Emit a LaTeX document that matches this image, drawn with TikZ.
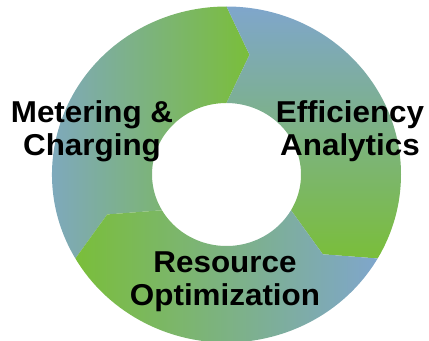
\documentclass[tikz,border=0pt]{standalone}
\usepackage{fontspec}
\setmainfont{Liberation Sans}
\definecolor{blu}{RGB}{127,166,204}
\definecolor{grn}{RGB}{122,190,58}
\newcommand{\widetext}[1]{\scalebox{1.04}[1]{#1}}
\tikzset{
  lbl/.style={anchor=base, inner sep=0pt, text=black,
    font=\fontsize{30.3}{34}\selectfont\bfseries},
  outerarc/.style={x radius=174.5, y radius=168},
  innerarc/.style={x radius=74.5, y radius=71.5}
}
\begin{document}
\begin{tikzpicture}[x=1bp,y=1bp]
\useasboundingbox (0,0) rectangle (429,341);
\clip (0,0) rectangle (429,341);
% boundary coordinates at 90, -30 and 210 degrees
\foreach \n/\a in {A/90, B/-30, C/210}{
  \coordinate (o\n) at ({226.5+174.5*cos(\a)},{166.5+168*sin(\a)});
  \coordinate (i\n) at ({226.5+74.5*cos(\a)},{166.5+71.5*sin(\a)});
  \coordinate (t\n) at ({226.5+124.5*cos(\a)+23*sin(\a)},{166.5+119.75*sin(\a)-23*cos(\a)});
}
% Metering & Charging segment
\shade[left color=blu, right color=grn]
  (oC) arc[start angle=210, end angle=90, outerarc] -- (tA) -- (iA)
  arc[start angle=90, end angle=210, innerarc] -- (tC) -- cycle;
% Efficiency Analytics segment
\shade[top color=blu, bottom color=grn]
  (oA) arc[start angle=90, end angle=-30, outerarc] -- (tB) -- (iB)
  arc[start angle=-30, end angle=90, innerarc] -- (tA) -- cycle;
% Resource Optimization segment
\shade[left color=grn, right color=blu]
  (oB) arc[start angle=-30, end angle=-150, outerarc] -- (tC) -- (iC)
  arc[start angle=-150, end angle=-30, innerarc] -- (tB) -- cycle;
% labels
\node[lbl] (m1) at (92,219) {\widetext{Metering \&}};
\node[lbl] (m2) at (92,186) {\widetext{Charging}};
\node[lbl] (e1) at (350,219) {\widetext{Efficiency}};
\node[lbl] (e2) at (350,186) {\widetext{Analytics}};
\node[lbl] (r1) at (225,69) {\widetext{Resource}};
\node[lbl] (r2) at (225,36) {\widetext{Optimization}};
\end{tikzpicture}
\end{document}
